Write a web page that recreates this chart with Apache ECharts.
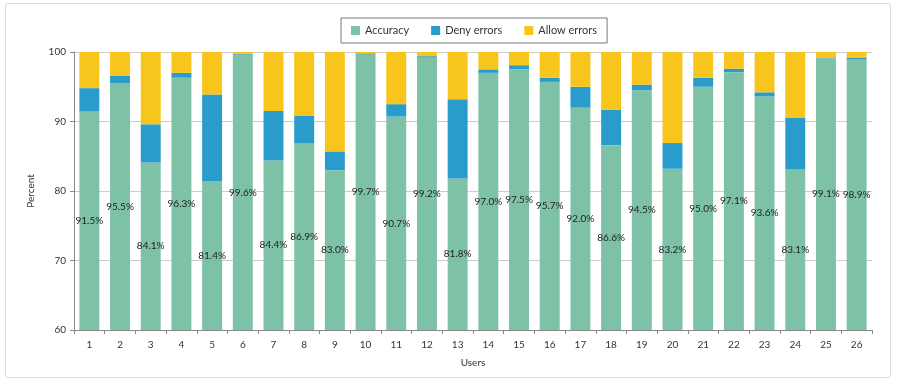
<!DOCTYPE html>
<html><head><meta charset="utf-8">
<script src="https://cdn.jsdelivr.net/npm/echarts@6/dist/echarts.min.js"></script>
<style>html,body{margin:0;padding:0;background:#fff}
#frame{position:absolute;left:5px;top:3px;width:886px;height:375px;border:1.5px solid #d5dde3;border-radius:3px;box-sizing:border-box}
#c{position:absolute;left:0;top:0;width:897px;height:384px}</style>
</head><body><div id="frame"></div><div id="c"></div>
<script>
const users = ['1','2','3','4','5','6','7','8','9','10','11','12','13','14','15','16','17','18','19','20','21','22','23','24','25','26'];
const accuracy = [91.5,95.5,84.1,96.3,81.4,99.6,84.4,86.9,83.0,99.7,90.7,99.2,81.8,97.0,97.5,95.7,92.0,86.6,94.5,83.2,95.0,97.1,93.6,83.1,99.1,98.9];
const denyErrors = [3.3,1.1,5.5,0.7,12.5,0.1,7.1,3.9,2.7,0.1,1.8,0.2,11.4,0.5,0.6,0.6,3.0,5.1,0.8,3.7,1.3,0.5,0.6,7.4,0.1,0.3];
const allowErrors = [5.2,3.4,10.4,3.0,6.1,0.3,8.5,9.2,14.3,0.2,7.5,0.6,6.8,2.5,1.9,3.7,5.0,8.3,4.7,13.1,3.7,2.4,5.8,9.5,0.8,0.8];
const yTicks = [60,70,80,90,100];

const font = 'Lato, "Open Sans", sans-serif';
const chart = echarts.init(document.getElementById('c'));
chart.setOption({
  animation:false,
  textStyle:{fontFamily:font},
  legend:{
    top:18,left:341,itemWidth:9,itemHeight:9,itemGap:22,
    padding:[7,10,7,10],
    borderColor:'#777',borderWidth:1,
    textStyle:{fontSize:11,color:'#333',fontFamily:font},
    data:['Accuracy','Deny errors','Allow errors'],
    icon:'rect'
  },
  grid:{left:74,right:25,top:52,bottom:54},
  xAxis:{
    type:'category',data:users,name:'Users',nameLocation:'middle',nameGap:28,
    nameTextStyle:{fontSize:10,color:'#333'},
    axisLine:{lineStyle:{color:'#888'}},
    axisTick:{show:true,alignWithLabel:false,length:4,lineStyle:{color:'#888'}},
    axisLabel:{fontSize:10,color:'#333',margin:10}
  },
  yAxis:{
    type:'value',min:yTicks[0],max:yTicks[yTicks.length-1],interval:10,
    name:'Percent',nameLocation:'middle',nameGap:38,nameRotate:90,
    nameTextStyle:{fontSize:10,color:'#333'},
    axisLine:{show:true,lineStyle:{color:'#888'}},
    axisTick:{show:true,length:4,lineStyle:{color:'#888'}},
    axisLabel:{fontSize:10,color:'#333',margin:8},
    splitLine:{lineStyle:{color:'#ccc'}}
  },
  series:[
    {name:'Accuracy',type:'bar',stack:'t',data:accuracy,barWidth:'65%',
     itemStyle:{color:'#7dc2a6'},
     label:{show:true,position:'inside',formatter:p=>p.value.toFixed(1)+'%',fontSize:10,color:'#222',fontFamily:font}},
    {name:'Deny errors',type:'bar',stack:'t',data:denyErrors,itemStyle:{color:'#2a9ccc'}},
    {name:'Allow errors',type:'bar',stack:'t',data:allowErrors,itemStyle:{color:'#f8c51c'}}
  ]
});
</script></body></html>
